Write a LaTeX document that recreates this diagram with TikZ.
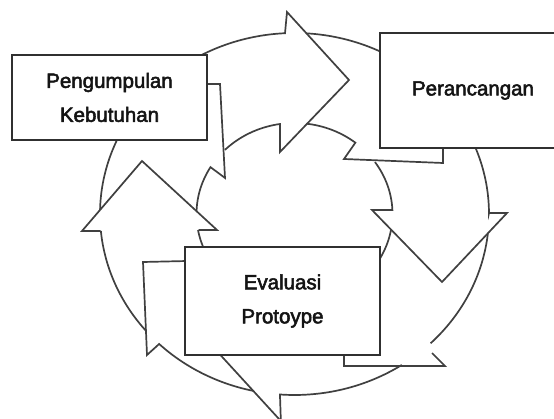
\documentclass[tikz,border=0pt]{standalone}
\usepackage{fontspec}
\setmainfont{Liberation Sans}
\newfontfamily\boxfont{Liberation Sans}[FakeBold=2.5]
\definecolor{ringc}{HTML}{404040}
\definecolor{boxc}{HTML}{303030}
\definecolor{txtc}{HTML}{141414}
\begin{document}
\begin{tikzpicture}[x=1pt,y=-1pt,
  ring/.style={draw=ringc, line width=1.7pt, line join=miter, miter limit=10},
  box/.style={draw=boxc, fill=white, line width=2pt, inner sep=0pt, align=center,
    text=txtc, font=\boxfont\fontsize{20.5}{34}\selectfont}]
\useasboundingbox (0,0) rectangle (554,419);
\clip (0,0) rectangle (554,419);
\fill[white] (0,0) rectangle (554,419);

% arrow A: outer arc, head, inner arc
\draw[ring] plot[domain=181.3:267.2,samples=80] ({294.5+194.5*cos(\x)},{214+181*sin(\x)})
  -- (287,12) -- (349,80) -- (280,152) -- (280,124.5)
  -- plot[domain=-98.5:-135.2,samples=30] ({294.5+98*cos(\x)},{214+91*sin(\x)});

% tail of box 1 and inner arc down to head D
\draw[ring] (205,84) -- (220,84) -- (225,178)
  -- plot[domain=211:182,samples=30] ({294.5+98*cos(\x)},{214+91*sin(\x)});

% head D
\draw[ring] (100.5,231) -- (82,231) -- (142,161) -- (217,230) -- (198.5,230);

% body D
\draw[ring] plot[domain=174.6:140,samples=40] ({294.5+194.5*cos(\x)},{214+181*sin(\x)});
\draw[ring] plot[domain=169.9:155,samples=20] ({294.5+98*cos(\x)},{214+91*sin(\x)});

% tail left of box 3 and outer arc to head C
\draw[ring] (187,261) -- (143,262) -- (147,355)
  -- plot[domain=134.1:102.1,samples=40] ({294.5+194.5*cos(\x)},{214+181*sin(\x)});

% head C
\draw[ring] (214,348) -- (290,431);
\draw[ring] (281,425) -- (280,396)
  -- plot[domain=94.3:56.5,samples=40] ({294.5+194.5*cos(\x)},{214+181*sin(\x)});

% tail right of box 3 and outer arc to head B
\draw[ring] (344,352) -- (344,366) -- (445,366) -- (432,353);
\draw[ring] plot[domain=45.6:6.2,samples=40] ({294.5+194.5*cos(\x)},{214+181*sin(\x)});

% head B and outer arc up to head A
\draw[ring] plot[domain=-34.8:-2.5,samples=30] ({294.5+98*cos(\x)},{214+91*sin(\x)})
  -- (372,210) -- (442,282) -- (507,213) -- (489,213)
  -- plot[domain=-0.3:-86.5,samples=80] ({294.5+194.5*cos(\x)},{214+181*sin(\x)});

% inner arc below head B
\draw[ring] plot[domain=10:32,samples=20] ({294.5+98*cos(\x)},{214+91*sin(\x)});

% tail of box 2 and inner arc to head A
\draw[ring] (443,146) -- (443,163) -- (344,159)
  -- plot[domain=-51.6:-83,samples=30] ({294.5+98*cos(\x)},{214+91*sin(\x)});

% boxes
\node[box, minimum width=195pt, minimum height=85pt] (kb) at (109.5,97.5) {Pengumpulan\\Kebutuhan};
\node[box, minimum width=186pt, minimum height=115pt] (pr) at (473,90.5) {\raisebox{2pt}{Perancangan}};
\node[box, minimum width=195pt, minimum height=108pt] (ev) at (282.5,301) {Evaluasi\\Protoype};
\end{tikzpicture}
\end{document}
